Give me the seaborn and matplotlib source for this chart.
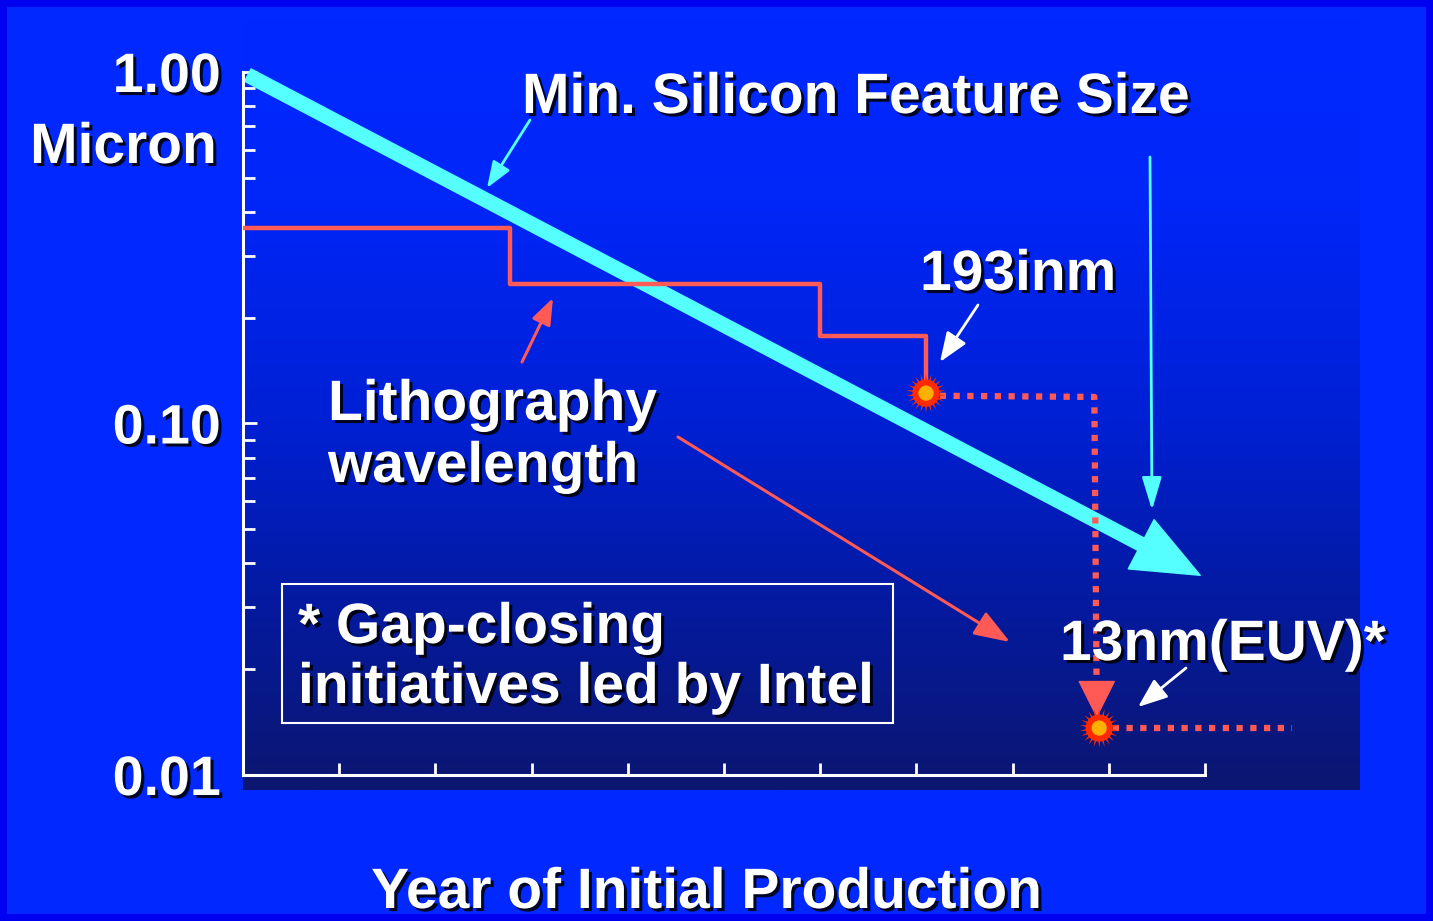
import numpy as np
import matplotlib
matplotlib.use("Agg")
import matplotlib.pyplot as plt
import matplotlib.patheffects as pe
from matplotlib.patches import Rectangle
from matplotlib.ticker import LogLocator, NullFormatter
import seaborn as sns

# ---------------- data ----------------
feature_years = [1985.1, 2004.9]          # min. silicon feature size trend (arrow)
feature_size = [0.98, 0.037]              # micron

litho_years = [1985.0, 1990.55, 1997.0, 1999.2]
litho_wavelength = [0.36, 0.25, 0.177, 0.122]   # micron (steps)

proj_years = [1999.2, 2002.7, 2002.75]          # dotted path 193nm -> EUV
proj_wavelength = [0.12, 0.119, 0.0152]

euv_years = [2002.8, 2006.8]
euv_wavelength = [0.0136, 0.0136]

node_years = [1999.2, 2002.8]                   # 193nm and 13nm(EUV) nodes
node_wavelength = [0.122, 0.0136]

year_ticks = list(range(1985, 2006, 2))
y_ticks = [0.01, 0.1, 1.0]
y_tick_labels = ["0.01", "0.10", "1.00"]

# ---------------- style ----------------
sns.set_theme(style="white")
plt.rcParams["font.family"] = ["Liberation Sans", "DejaVu Sans"]
plt.rcParams["font.weight"] = "bold"

W, H = 1433, 921
BG = "#0028ff"
CYAN = "#55ffff"
RED = "#ff5a55"
WHITE = "white"
shadow = [pe.SimplePatchShadow(offset=(2.2, -2.2), shadow_rgbFace="black", alpha=0.85), pe.Normal()]

fig = plt.figure(figsize=(W / 100, H / 100), dpi=100, facecolor=BG)
fig.add_artist(Rectangle((0, 0), 1, 1, transform=fig.transFigure, fill=False,
                         ec="#0000f0", lw=10, zorder=10))

rect = [243 / W, 1 - 790 / H, (1360 - 243) / W, (790 - 20) / H]

# gradient background of the plotting area
gax = fig.add_axes(rect, zorder=0)
stops_y = np.array([0, 180, 400, 580, 770]) / 770.0
stops_c = np.array([[0, 40, 255], [0, 38, 248], [0, 32, 212], [4, 26, 160], [12, 22, 112]]) / 255.0
yy = np.linspace(0, 1, 400)
grad = np.stack([np.interp(yy, stops_y, stops_c[:, k]) for k in range(3)], axis=-1)[:, None, :]
gax.imshow(grad, aspect="auto", extent=[0, 1, 0, 1], origin="upper")
gax.axis("off")

ax = fig.add_axes(rect, zorder=1)
ax.set_facecolor("none")
ax.set_yscale("log")
ax.set_xlim(1985, 1985 + 2 * (1360 - 243) / 96.2)
ax.set_ylim(10 ** (-2 - 15 / 351.5), 10 ** (52 / 351.5))

# lithography wavelength steps
sns.lineplot(x=litho_years, y=litho_wavelength, ax=ax, drawstyle="steps-post",
             color=RED, lw=3.2, estimator=None, sort=False, zorder=3)
# projected path (dotted)
sns.lineplot(x=proj_years, y=proj_wavelength, ax=ax, color=RED, lw=4.5,
             ls=(0, (1, 1.2)), estimator=None, sort=False, zorder=3)
sns.lineplot(x=euv_years, y=euv_wavelength, ax=ax, color=RED, lw=4.5,
             ls=(0, (1, 1.2)), estimator=None, sort=False, zorder=3)
# arrowhead on the dotted drop
ax.annotate("", xy=(proj_years[-1], 0.01452), xytext=(proj_years[-1], 0.0178),
            arrowprops=dict(arrowstyle="-|>,head_length=2.1,head_width=1.05",
                            color=RED, lw=1, shrinkA=0, shrinkB=0), zorder=4)

# feature size thick arrow
ax.annotate("", xy=(feature_years[1], feature_size[1]), xytext=(feature_years[0], feature_size[0]),
            arrowprops=dict(arrowstyle="simple,head_length=2.4,head_width=2.0,tail_width=0.5",
                            color=CYAN, mutation_scale=20, shrinkA=0, shrinkB=0), zorder=2)

# starburst nodes
sns.scatterplot(x=node_years, y=node_wavelength, ax=ax, marker=(22, 1, 0), s=800,
                color="#ff2a00", edgecolor="none", zorder=5)
sns.scatterplot(x=node_years, y=node_wavelength, ax=ax, marker="o", s=380,
                color="#ff2a00", edgecolor="none", zorder=6)
sns.scatterplot(x=node_years, y=node_wavelength, ax=ax, marker="o", s=120,
                color="#ffb000", edgecolor="none", zorder=7)

# axes styling
for s in ["top", "right"]:
    ax.spines[s].set_visible(False)
ax.spines["left"].set_bounds(0.01, 1.0)
ax.spines["bottom"].set_position(("data", 0.01))
ax.spines["bottom"].set_bounds(1985, 2005)
for s in ["left", "bottom"]:
    ax.spines[s].set_color(WHITE)
    ax.spines[s].set_linewidth(2.2)

ax.set_xticks(year_ticks)
ax.set_xticklabels([])
ax.tick_params(axis="x", which="major", bottom=True, direction="in", length=9, width=2,
               color=WHITE, labelbottom=False)
ax.set_yticks(y_ticks)
ax.set_yticklabels(y_tick_labels)
ax.yaxis.set_minor_locator(LogLocator(base=10, subs=np.arange(2, 10)))
ax.yaxis.set_minor_formatter(NullFormatter())
ax.tick_params(axis="y", which="major", left=True, direction="in", length=10, width=2,
               color=WHITE, labelsize=40, labelcolor=WHITE, pad=16)
ax.tick_params(axis="y", which="minor", left=True, direction="in", length=8.5, width=2,
               color=WHITE)
for lab in ax.get_yticklabels():
    lab.set_fontweight("bold")
    lab.set_path_effects(shadow)
ax.grid(False)
ax.set_xlabel("")
ax.set_ylabel("")


def fp(x, y):
    return (x / W, 1 - y / H)


def label(x, y, s, ha="left"):
    fig.text(*fp(x, y), s, fontsize=41, color=WHITE, weight="bold", ha=ha,
             va="baseline", path_effects=shadow, zorder=8)


label(522, 113, "Min. Silicon Feature Size")
label(217, 163, "Micron", ha="right")
label(920, 290, "193inm")
label(328, 420, "Lithography")
label(328, 482, "wavelength")
label(298, 643, "* Gap-closing")
label(298, 703, "initiatives led by Intel")
label(1060, 660, "13nm(EUV)*")
label(707, 908, "Year of Initial Production", ha="center")

fig.add_artist(Rectangle(fp(282, 723), (893 - 282) / W, (723 - 584) / H,
                         transform=fig.transFigure, fill=False, ec=WHITE, lw=1.5, zorder=8))


def pointer(x0, y0, x1, y1, color, lw=2, hl=1.6, hw=0.6):
    fig.add_artist(matplotlib.patches.FancyArrowPatch(
        fp(x0, y0), fp(x1, y1), transform=fig.transFigure,
        arrowstyle=f"-|>,head_length={hl},head_width={hw}", mutation_scale=10,
        color=color, lw=lw, shrinkA=0, shrinkB=0, zorder=9))


pointer(530, 120, 487, 188, CYAN, lw=2)
pointer(522, 362, 553, 298, RED, lw=2.2)
pointer(678, 437, 1010, 642, RED, lw=2.2, hl=2.2, hw=0.8)
pointer(1150, 157, 1152, 510, CYAN, lw=2, hl=2.0, hw=0.6)
pointer(978, 305, 940, 362, WHITE, lw=2, hl=1.8, hw=0.7)
pointer(1186, 668, 1138, 707, WHITE, lw=2, hl=1.8, hw=0.7)

fig.savefig("out.png", dpi=100, facecolor=BG)
